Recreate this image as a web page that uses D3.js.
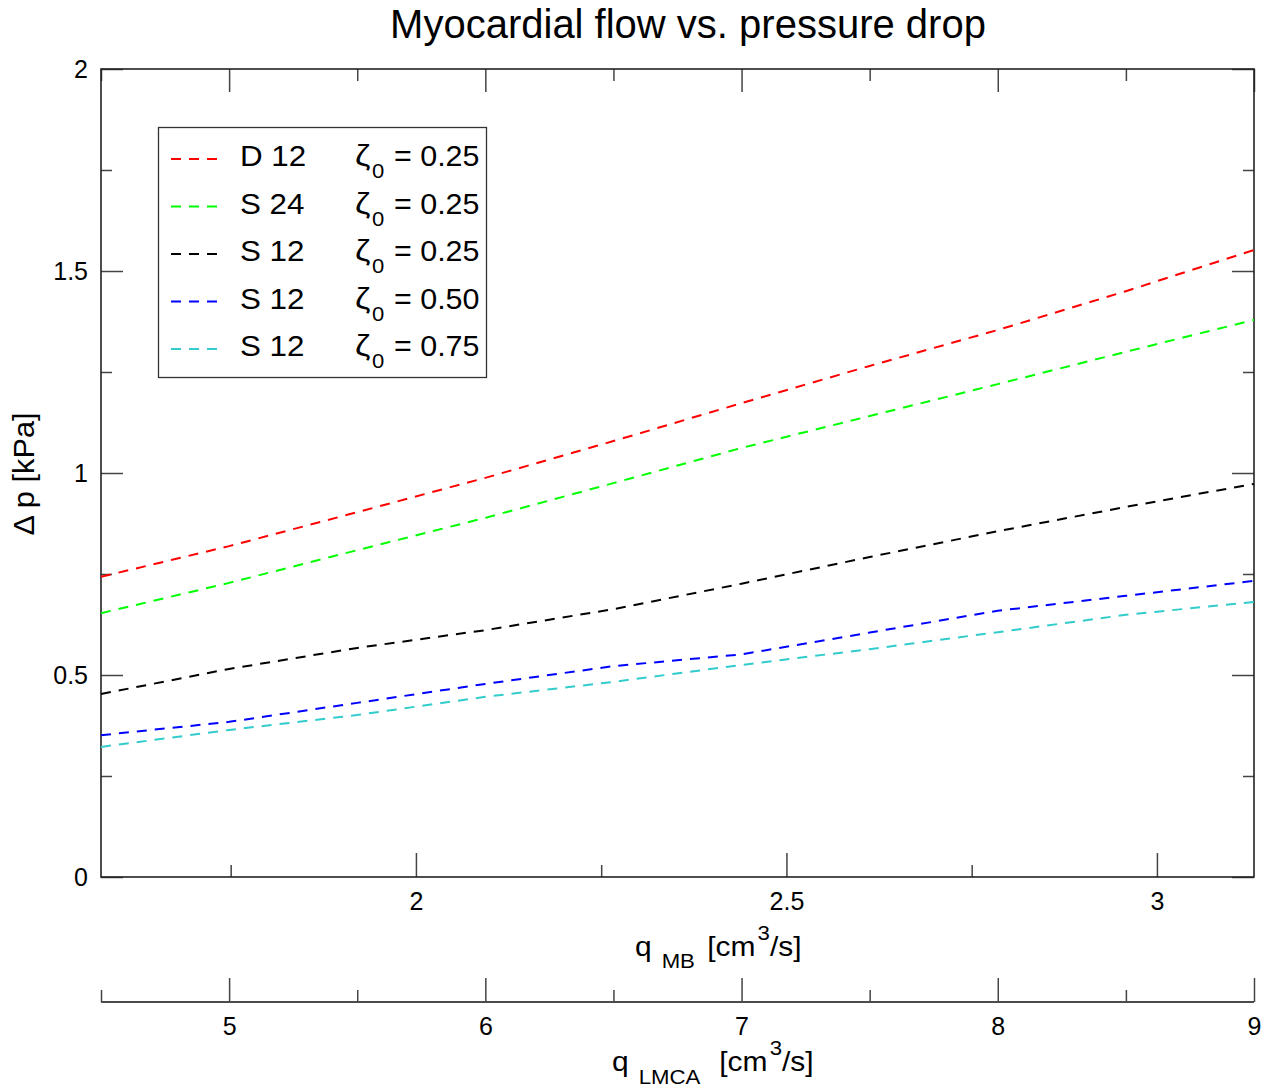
<!DOCTYPE html>
<html>
<head>
<meta charset="utf-8">
<script src="https://cdn.jsdelivr.net/npm/d3@7"></script>
<style>
  html, body { margin: 0; padding: 0; background: #fff; }
  text { font-family: "Liberation Sans", Arial, sans-serif; fill: #000; }
</style>
</head>
<body>
<svg id="chart" width="1267" height="1089"></svg>
<script>
// ---------------- data ----------------
const qLMCA = [4.5, 5, 5.5, 6, 6.5, 7, 7.5, 8, 8.5, 9];
const dpD12_z025 = [0.743, 0.819, 0.903, 0.988, 1.079, 1.173, 1.265, 1.354, 1.450, 1.552];
const dpS24_z025 = [0.653, 0.728, 0.809, 0.889, 0.975, 1.062, 1.141, 1.220, 1.300, 1.379];
const dpS12_z025 = [0.453, 0.515, 0.567, 0.611, 0.663, 0.726, 0.792, 0.856, 0.916, 0.973];
const dpS12_z050 = [0.351, 0.384, 0.431, 0.478, 0.522, 0.551, 0.605, 0.659, 0.696, 0.733];
const dpS12_z075 = [0.322, 0.364, 0.401, 0.446, 0.483, 0.525, 0.564, 0.606, 0.649, 0.681];

const seriesNames = ["D 12", "S 24", "S 12", "S 12", "S 12"];
const seriesZeta = ["0.25", "0.25", "0.25", "0.50", "0.75"];
const seriesColors = ["#ff0000", "#00ff00", "#000000", "#0000ff", "#33cccc"];
const seriesValues = [dpD12_z025, dpS24_z025, dpS12_z025, dpS12_z050, dpS12_z075];

const yMajorTicks = [0, 0.5, 1, 1.5, 2];
const yMinorTicks = [0.25, 0.75, 1.25, 1.75];
const qMBMajorTicks = [2, 2.5, 3];
const qMBMinorTicks = [1.75, 2.25, 2.75];
const qLMCAMajorTicks = [5, 6, 7, 8, 9];
const qLMCAMinorTicks = [4.5, 5.5, 6.5, 7.5, 8.5];

const titleText = "Myocardial flow vs. pressure drop";

// ---------------- layout ----------------
const svg = d3.select("#chart");
const L = 101, R = 1254, T = 69, B = 877;
const lmcaAxisY = 1002;

const x = d3.scaleLinear().domain([1.575, 3.131]).range([L, R]);
const xL = d3.scaleLinear().domain([4.5, 9]).range([L, R]);
const y = d3.scaleLinear().domain([0, 2]).range([B, T]);

const tickColor = "#444";
const fmt = d => d3.format("")(d);

function styleAxis(g, fontSize) {
  g.select(".domain").remove();
  g.selectAll(".tick line").attr("stroke", tickColor).attr("stroke-width", 1.5);
  g.selectAll(".tick text").attr("font-size", fontSize)
    .attr("font-family", "'Liberation Sans', Arial, sans-serif").attr("fill", "#000");
}

// left axis
svg.append("g").attr("transform", `translate(${L},0)`)
  .call(d3.axisLeft(y).tickValues(yMajorTicks).tickSize(-22).tickPadding(13).tickFormat(fmt))
  .call(g => styleAxis(g, 25));
svg.append("g").attr("transform", `translate(${L},0)`)
  .call(d3.axisLeft(y).tickValues(yMinorTicks).tickSize(-11).tickFormat(""))
  .call(g => styleAxis(g, 0));
// right axis
svg.append("g").attr("transform", `translate(${R},0)`)
  .call(d3.axisRight(y).tickValues(yMajorTicks).tickSize(-22).tickFormat(""))
  .call(g => styleAxis(g, 0));
svg.append("g").attr("transform", `translate(${R},0)`)
  .call(d3.axisRight(y).tickValues(yMinorTicks).tickSize(-11).tickFormat(""))
  .call(g => styleAxis(g, 0));
// bottom q_MB axis
svg.append("g").attr("transform", `translate(0,${B})`)
  .call(d3.axisBottom(x).tickValues(qMBMajorTicks).tickSize(-24).tickPadding(15).tickFormat(fmt))
  .call(g => styleAxis(g, 25));
svg.append("g").attr("transform", `translate(0,${B})`)
  .call(d3.axisBottom(x).tickValues(qMBMinorTicks).tickSize(-12).tickFormat(""))
  .call(g => styleAxis(g, 0));
// top axis (mirrors q_LMCA ticks)
svg.append("g").attr("transform", `translate(0,${T})`)
  .call(d3.axisTop(xL).tickValues(qLMCAMajorTicks).tickSize(-23).tickFormat(""))
  .call(g => styleAxis(g, 0));
svg.append("g").attr("transform", `translate(0,${T})`)
  .call(d3.axisTop(xL).tickValues(qLMCAMinorTicks).tickSize(-12).tickFormat(""))
  .call(g => styleAxis(g, 0));
// second bottom axis q_LMCA
svg.append("line").attr("x1", L).attr("x2", R).attr("y1", lmcaAxisY).attr("y2", lmcaAxisY)
  .attr("stroke", "#111").attr("stroke-width", 1.5);
svg.append("g").attr("transform", `translate(0,${lmcaAxisY})`)
  .call(d3.axisBottom(xL).tickValues(qLMCAMajorTicks).tickSize(-24).tickPadding(15).tickFormat(fmt))
  .call(g => styleAxis(g, 25));
svg.append("g").attr("transform", `translate(0,${lmcaAxisY})`)
  .call(d3.axisBottom(xL).tickValues(qLMCAMinorTicks).tickSize(-12).tickFormat(""))
  .call(g => styleAxis(g, 0));

// frame
svg.append("rect").attr("x", L).attr("y", T).attr("width", R - L).attr("height", B - T)
  .attr("fill", "none").attr("stroke", "#222").attr("stroke-width", 1.6);

// lines
const line = d3.line().x((d, i) => xL(qLMCA[i])).y(d => y(d));
svg.append("g").selectAll("path").data(seriesValues).join("path")
  .attr("d", d => line(d))
  .attr("fill", "none")
  .attr("stroke", (d, i) => seriesColors[i])
  .attr("stroke-width", 2)
  .attr("stroke-dasharray", "10,8");

// title
svg.append("text").attr("x", 688).attr("y", 38).attr("text-anchor", "middle")
  .attr("font-size", 40).text(titleText);

// y label
svg.append("text").attr("transform", "translate(34,474) rotate(-90) scale(1.06,1)")
  .attr("text-anchor", "middle").attr("font-size", 29).text("Δ p [kPa]");

// x label q_MB
{
  const t = svg.append("text").attr("transform", "translate(635,956) scale(1.11,1)")
    .attr("font-size", 27);
  t.append("tspan").text("q");
  t.append("tspan").attr("dx", 9).attr("dy", 12).attr("font-size", 20).text("MB");
  t.append("tspan").attr("dx", 11).attr("dy", -12).text("[cm");
  t.append("tspan").attr("dx", 2).attr("dy", -16).attr("font-size", 20).text("3");
  t.append("tspan").attr("dy", 16).text("/s]");
}
// x label q_LMCA
{
  const t = svg.append("text").attr("transform", "translate(612,1071) scale(1.11,1)")
    .attr("font-size", 27);
  t.append("tspan").text("q");
  t.append("tspan").attr("dx", 9).attr("dy", 13).attr("font-size", 20).text("LMCA");
  t.append("tspan").attr("dx", 17).attr("dy", -13).text("[cm");
  t.append("tspan").attr("dx", 2).attr("dy", -16).attr("font-size", 20).text("3");
  t.append("tspan").attr("dy", 16).text("/s]");
}

// legend
const lg = svg.append("g");
lg.append("rect").attr("x", 158.5).attr("y", 127.5).attr("width", 328).attr("height", 250)
  .attr("fill", "#fff").attr("stroke", "#333").attr("stroke-width", 1.3);
const rowY = d3.scaleLinear().domain([0, 4]).range([159, 349]);
const rows = lg.selectAll("g.row").data(seriesNames).join("g").attr("class", "row")
  .attr("transform", (d, i) => `translate(0,${rowY(i)})`);
rows.append("line").attr("x1", 171).attr("x2", 217).attr("y1", 0).attr("y2", 0)
  .attr("stroke", (d, i) => seriesColors[i]).attr("stroke-width", 2).attr("stroke-dasharray", "10,8");
rows.append("text").attr("transform", "translate(240,7) scale(1.08,1)")
  .attr("font-size", 29).text(d => d);
rows.append("text").attr("transform", "translate(355,7) scale(1.2,1)")
  .attr("font-size", 29).text("ζ");
rows.append("text").attr("transform", "translate(372,19) scale(1.05,1)")
  .attr("font-size", 21).text("0");
rows.append("text").attr("transform", "translate(394,7) scale(1.05,1)")
  .attr("font-size", 29).text((d, i) => "= " + seriesZeta[i]);
</script>
</body>
</html>
